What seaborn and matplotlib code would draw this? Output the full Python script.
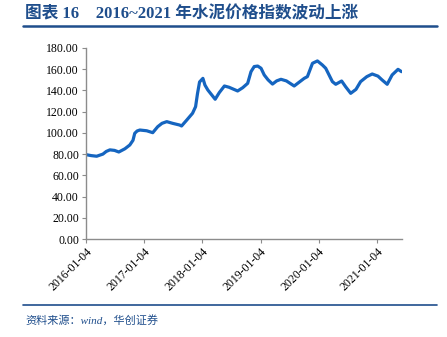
import matplotlib
matplotlib.use("Agg")
import matplotlib.pyplot as plt
import matplotlib.dates as mdates
import seaborn as sns
import pandas as pd

# 水泥价格指数（周度，读数）
dates = [
    "2016-01-04", "2016-02-05", "2016-03-11", "2016-04-19", "2016-05-10", "2016-06-02",
    "2016-07-01", "2016-07-28", "2016-09-04", "2016-10-05", "2016-10-25", "2016-11-05",
    "2016-11-20", "2016-12-07", "2017-01-19", "2017-02-26", "2017-03-29", "2017-04-25",
    "2017-05-25", "2017-07-01", "2017-08-14", "2017-08-26", "2017-09-27", "2017-11-03",
    "2017-11-22", "2017-12-04", "2017-12-17", "2018-01-07", "2018-01-20", "2018-02-07",
    "2018-03-25", "2018-04-20", "2018-05-22", "2018-06-20", "2018-08-13", "2018-09-14",
    "2018-10-15", "2018-11-05", "2018-11-25", "2018-12-17", "2019-01-07", "2019-01-27",
    "2019-02-20", "2019-03-20", "2019-04-15", "2019-05-12", "2019-06-15", "2019-08-03",
    "2019-10-05", "2019-10-25", "2019-11-26", "2019-12-27", "2020-01-27", "2020-02-17",
    "2020-03-30", "2020-04-20", "2020-05-27", "2020-06-21", "2020-07-23", "2020-08-25",
    "2020-09-23", "2020-11-01", "2020-12-05", "2021-01-10", "2021-02-05", "2021-03-09",
    "2021-04-09", "2021-05-16", "2021-06-07",
]
index_values = [
    79.5, 78.6, 78.0, 80.0, 82.5, 84.0,
    83.5, 82.0, 85.0, 88.6, 93.0, 99.6,
    101.8, 102.7, 102.0, 100.2, 105.8, 109.0,
    110.6, 109.0, 107.4, 106.5, 112.0, 118.5,
    124.7, 137.0, 148.0, 151.4, 145.0, 140.4,
    131.7, 138.0, 144.2, 143.0, 139.5, 142.6,
    146.7, 157.7, 162.5, 163.0, 160.9, 154.6,
    150.0, 146.0, 149.0, 150.5, 149.0, 144.2,
    151.4, 153.0, 165.6, 167.8, 164.0, 160.9,
    148.3, 145.8, 148.9, 143.5, 137.3, 141.0,
    148.3, 153.0, 155.5, 153.5, 149.9, 145.8,
    154.6, 159.9, 157.7,
]
year_ticks = ["2016-01-04", "2017-01-04", "2018-01-04", "2019-01-04", "2020-01-04", "2021-01-04"]
y_ticks = [0, 20, 40, 60, 80, 100, 120, 140, 160, 180]

title_text = "图表 16　2016~2021 年水泥价格指数波动上涨"
source_text = "资料来源：wind，华创证券"

sns.set_style("white")
plt.rcParams["font.family"] = ["Liberation Serif", "Noto Sans CJK SC"]

df = pd.DataFrame({"date": pd.to_datetime(dates), "value": index_values})

fig = plt.figure(figsize=(4.47, 3.37), dpi=100)
ax = fig.add_axes([86 / 447, 1 - 239 / 337, (402 - 86) / 447, (239 - 48) / 337])

sns.lineplot(data=df, x="date", y="value", ax=ax, color="#1565C0", linewidth=2.3)

ax.set_xlim(pd.Timestamp("2016-01-04"), pd.Timestamp("2021-06-10"))
ax.set_ylim(0, 180)
ax.set_yticks(y_ticks)
ax.set_yticklabels([f"{v:.2f}" for v in y_ticks], fontsize=8.5)
ax.set_xticks(pd.to_datetime(year_ticks))
ax.xaxis.set_major_formatter(mdates.DateFormatter("%Y-%m-%d"))
plt.setp(ax.get_xticklabels(), rotation=45, ha="right", rotation_mode="anchor", fontsize=8.5)
ax.set_xlabel("")
ax.set_ylabel("")

for side in ("top", "right"):
    ax.spines[side].set_visible(False)
for side in ("left", "bottom"):
    ax.spines[side].set_color("#8C8C8C")
    ax.spines[side].set_linewidth(1.0)
ax.tick_params(axis="both", direction="out", length=3, width=0.8, color="#8C8C8C",
               labelcolor="black", pad=2)
ax.tick_params(axis="y", left=True)
ax.tick_params(axis="x", bottom=True)

navy = "#1F4E8C"
fig.text(25 / 447, 1 - 14 / 337, title_text, fontsize=12, fontweight="bold",
         color=navy, va="center", ha="left")
fig.add_artist(plt.Line2D([23 / 447, 437 / 447], [1 - 26 / 337, 1 - 26 / 337],
                          color=navy, linewidth=1.8))
fig.add_artist(plt.Line2D([23 / 447, 437 / 447], [1 - 305 / 337, 1 - 305 / 337],
                          color=navy, linewidth=1.2))
fig.text(25 / 447, 1 - 320 / 337, source_text, fontsize=8, style="italic",
         color=navy, va="center", ha="left")

fig.savefig("out.png", dpi=100)
